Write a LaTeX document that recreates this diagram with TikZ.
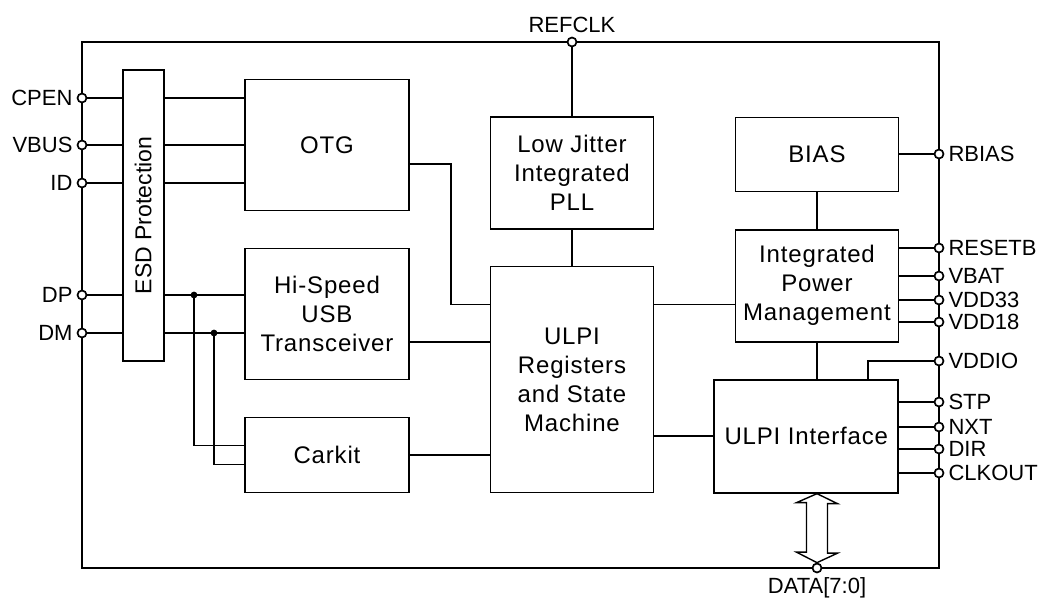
\documentclass[tikz,border=0pt]{standalone}
\usepackage{fontspec}
\usepackage{graphicx}
\setmainfont{Liberation Sans}[LetterSpace=3.5]
\newfontfamily\pinfont{Liberation Sans}
\begin{document}
\begin{tikzpicture}[x=1pt,y=-1pt,line width=1.7pt,
  font=\fontsize{24}{29}\selectfont,
  every label/.style={font=\pinfont\fontsize{22}{26}\selectfont},
  blk/.style={draw,align=center,inner sep=0pt},
  pin/.style={draw,circle,fill=white,inner sep=0pt,minimum size=9pt}]
\useasboundingbox (0,0) rectangle (1041,602);
\node[draw,inner sep=0pt,minimum width=857pt,minimum height=526pt] (chip) at (510.5,305) {};

\node[blk,minimum width=41pt,minimum height=291pt] (esd) at (143.2,215.5) {\rotatebox{90}{\pinfont\fontsize{23}{27}\selectfont ESD Protection}};
\node[blk,minimum width=164pt,minimum height=131pt] (otg) at (327,145) {OTG};
\node[blk,minimum width=164pt,minimum height=131pt] (hs) at (327,314) {Hi-Speed\\USB\\Transceiver};
\node[blk,minimum width=164pt,minimum height=75pt] (carkit) at (327,455) {Carkit};
\node[blk,minimum width=163pt,minimum height=112pt] (pll) at (572,173) {Low Jitter\\Integrated\\PLL};
\node[blk,minimum width=163pt,minimum height=226pt] (ureg) at (572,379.5) {ULPI\\Registers\\and State\\Machine};
\node[blk,minimum width=163pt,minimum height=74pt] (bias) at (817,154.5) {BIAS};
\node[blk,minimum width=163pt,minimum height=112pt] (pwr) at (817,285.7) {Integrated\\Power\\Management};
\node[blk,minimum width=184pt,minimum height=113pt] (uif) at (806.3,436.3) {ULPI Interface};

\foreach \n/\y/\t in {cpen/98/CPEN,vbus/145/VBUS,id/183/ID,dp/295/DP,dm/333/DM}
{
\node[pin,label=left:\t] (\n) at (82,\y) {};
}
\foreach \n/\y/\t in {rbias/154/RBIAS,resetb/248/RESETB,vbat/276/VBAT,vdd33/300/VDD33,vdd18/322/VDD18,vddio/361/VDDIO,stp/402/STP,nxt/427/NXT,dir/449/DIR,clkout/473/CLKOUT}
{
\node[pin,label=right:\t] (\n) at (939,\y) {};
}
\node[pin,label=above:REFCLK] (refclk) at (572,42) {};
\node[pin,label={below:{DATA[7:0]}}] (data) at (817,568) {};

\foreach \p in {cpen,vbus,id}
{
\draw (\p.east) -- (\p -| esd.west);
\draw (\p -| esd.east) -- (\p -| otg.west);
}
\foreach \p in {dp,dm}
{
\draw (\p.east) -- (\p -| esd.west);
\draw (\p -| esd.east) -- (\p -| hs.west);
}
\coordinate (jdp) at ([xshift=112pt]dp);
\coordinate (jdm) at ([xshift=132pt]dm);
\fill (jdp) circle (3.4);
\fill (jdm) circle (3.4);
\draw (jdp) |- ([yshift=9.5pt]carkit.west);
\draw (jdm) |- ([yshift=-9.5pt]carkit.west);

\draw ([yshift=-19pt]otg.east) -- ++(41,0) |- ([yshift=75pt]ureg.west);
\draw ([yshift=-28pt]hs.east) -- ++(81,0);
\draw (carkit.east) -- (carkit.east -| ureg.west);
\draw (refclk.south) -- (pll.north);
\draw (pll.south) -- (ureg.north);
\draw ([yshift=75pt]ureg.east) -- ++(82,0);
\draw (uif.west) -- (uif.west -| ureg.east);

\draw (rbias.west) -- (rbias -| bias.east);
\draw (bias.south) -- (pwr.north);
\foreach \p in {resetb,vbat,vdd33,vdd18}
{
\draw (\p.west) -- (\p -| pwr.east);
}
\draw (pwr.south) -- (pwr.south |- uif.north);
\draw (vddio.west) -| ([xshift=61.4pt]uif.north);
\foreach \p in {stp,nxt,dir,clkout}
{
\draw (\p.west) -- (\p -| uif.east);
}
\draw[fill=white,line width=1.4pt] (uif.south -| data) -- ++(20.5,10) -- ++(-10,0) -- ++(0,49.5) -- ++(10,0) -- (data.north) -- ++(-20.5,-10.5) -- ++(10,0) -- ++(0,-49.5) -- ++(-10,0) -- cycle;
\end{tikzpicture}
\end{document}
